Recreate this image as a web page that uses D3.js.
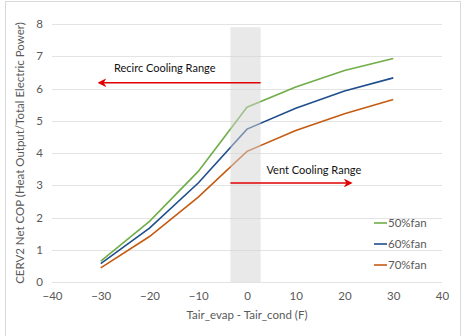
<!DOCTYPE html>
<html>
<head>
<meta charset="utf-8">
<script src="https://cdn.jsdelivr.net/npm/d3@7"></script>
<style>
  body { margin: 0; background: #fff; }
  text { font-family: Lato, "Open Sans", sans-serif; }
</style>
</head>
<body>
<div id="chart"></div>
<script>
// COP vs temperature difference, one line per fan speed
const width = 469;
const height = 336;
const margin = {left: 52, right: 27, top: 24, bottom: 54};

const tempDiff = [-30, -20, -10, 0, 10, 20, 30];
const cop50 = [0.65, 1.88, 3.43, 5.42, 6.05, 6.56, 6.93];
const cop60 = [0.57, 1.67, 3.07, 4.74, 5.39, 5.92, 6.33];
const cop70 = [0.44, 1.41, 2.63, 4.05, 4.70, 5.22, 5.66];
const seriesNames = ["50%fan", "60%fan", "70%fan"];
const seriesColors = ["#70AD47", "#1F4E8C", "#C55A11"];
const xTicks = [-40, -30, -20, -10, 0, 10, 20, 30, 40];
const yTicks = [0, 1, 2, 3, 4, 5, 6, 7, 8];
// transition band between the two cooling modes
const band = [-3.4, 2.8];

const svg = d3.select("#chart")
  .append("svg")
  .attr("width", width)
  .attr("height", height);

// outer chart border
svg.append("rect")
  .attr("x", 5.5).attr("y", 1.5)
  .attr("width", 455).attr("height", 340)
  .attr("fill", "none")
  .attr("stroke", "#d9d9d9");

const x = d3.scaleLinear()
  .domain([-40, 40])
  .range([margin.left, width - margin.right]);

const y = d3.scaleLinear()
  .domain([0, 8])
  .range([height - margin.bottom, margin.top]);

// horizontal gridlines
svg.append("g")
  .selectAll("line")
  .data(yTicks)
  .enter()
  .append("line")
    .attr("x1", x(-40)).attr("x2", x(40))
    .attr("y1", d => Math.round(y(d)) + 0.5)
    .attr("y2", d => Math.round(y(d)) + 0.5)
    .attr("stroke", "#e3e3e3");

// axes, labels only
const yAxis = svg.append("g")
  .attr("transform", `translate(${x(-40)},0)`)
  .call(d3.axisLeft(y).tickValues(yTicks).tickSize(0).tickPadding(9));
yAxis.select(".domain").remove();
yAxis.selectAll("text").attr("font-size", "11.5px").attr("fill", "#595959");

const xAxis = svg.append("g")
  .attr("transform", `translate(0,${y(0)})`)
  .call(d3.axisBottom(x).tickValues(xTicks).tickSize(0).tickPadding(10));
xAxis.select(".domain").remove();
xAxis.selectAll("text").attr("font-size", "11.5px").attr("fill", "#595959");

// series lines
const seriesData = [cop50, cop60, cop70];
const line = d3.line()
  .x((d, i) => x(tempDiff[i]))
  .y(d => y(d));

svg.append("g")
  .selectAll("path")
  .data(seriesData)
  .enter()
  .append("path")
    .attr("d", line)
    .attr("fill", "none")
    .attr("stroke", (d, i) => seriesColors[i])
    .attr("stroke-width", 1.6);

// shaded band sits over the lines, semi-transparent
svg.append("rect")
  .attr("x", x(band[0]))
  .attr("y", y(7.9))
  .attr("width", x(band[1]) - x(band[0]))
  .attr("height", y(0) - y(7.9))
  .attr("fill", "#d4d4d4")
  .attr("opacity", 0.5);

// arrows
svg.append("defs").append("marker")
  .attr("id", "arrow")
  .attr("viewBox", "0 0 10 10")
  .attr("refX", 8).attr("refY", 5)
  .attr("markerWidth", 5.5).attr("markerHeight", 5.5)
  .attr("orient", "auto")
  .append("path")
    .attr("d", "M0,0 L10,5 L0,10 L3,5 Z")
    .attr("fill", "#E00000");

const arrows = [
  {from: band[1], to: -30.3, at: 6.18, label: "Recirc Cooling Range", lx: -27.3, ly: 6.63},
  {from: band[0], to: 21.3, at: 3.07, label: "Vent Cooling Range", lx: 4.0, ly: 3.48}
];

arrows.forEach(a => {
  svg.append("line")
    .attr("x1", x(a.from)).attr("x2", x(a.to))
    .attr("y1", y(a.at)).attr("y2", y(a.at))
    .attr("stroke", "#E00000")
    .attr("stroke-width", 1.6)
    .attr("marker-end", "url(#arrow)");
  svg.append("text")
    .attr("x", x(a.lx))
    .attr("y", y(a.ly))
    .attr("dy", "0.35em")
    .attr("font-size", "11px")
    .attr("fill", "#111")
    .text(a.label);
});

// legend
const legend = svg.append("g")
  .selectAll("g")
  .data(seriesNames)
  .enter()
  .append("g")
    .attr("transform", (d, i) => `translate(374,${223 + i * 21})`);

legend.append("line")
  .attr("x1", 0).attr("x2", 13)
  .attr("stroke", (d, i) => seriesColors[i])
  .attr("stroke-width", 1.6);

legend.append("text")
  .attr("x", 14)
  .attr("dy", "0.35em")
  .attr("font-size", "11.5px")
  .attr("fill", "#595959")
  .text(d => d);

// axis titles
svg.append("text")
  .attr("x", x(0))
  .attr("y", 315)
  .attr("text-anchor", "middle")
  .attr("dy", "0.35em")
  .attr("font-size", "11.5px")
  .attr("fill", "#595959")
  .text("Tair_evap - Tair_cond (F)");

svg.append("text")
  .attr("transform", `translate(20,${(y(0) + y(8)) / 2}) rotate(-90)`)
  .attr("text-anchor", "middle")
  .attr("dy", "0.35em")
  .attr("font-size", "11.5px")
  .attr("fill", "#595959")
  .text("CERV2 Net COP (Heat Output/Total Electric Power)");
</script>
</body>
</html>
